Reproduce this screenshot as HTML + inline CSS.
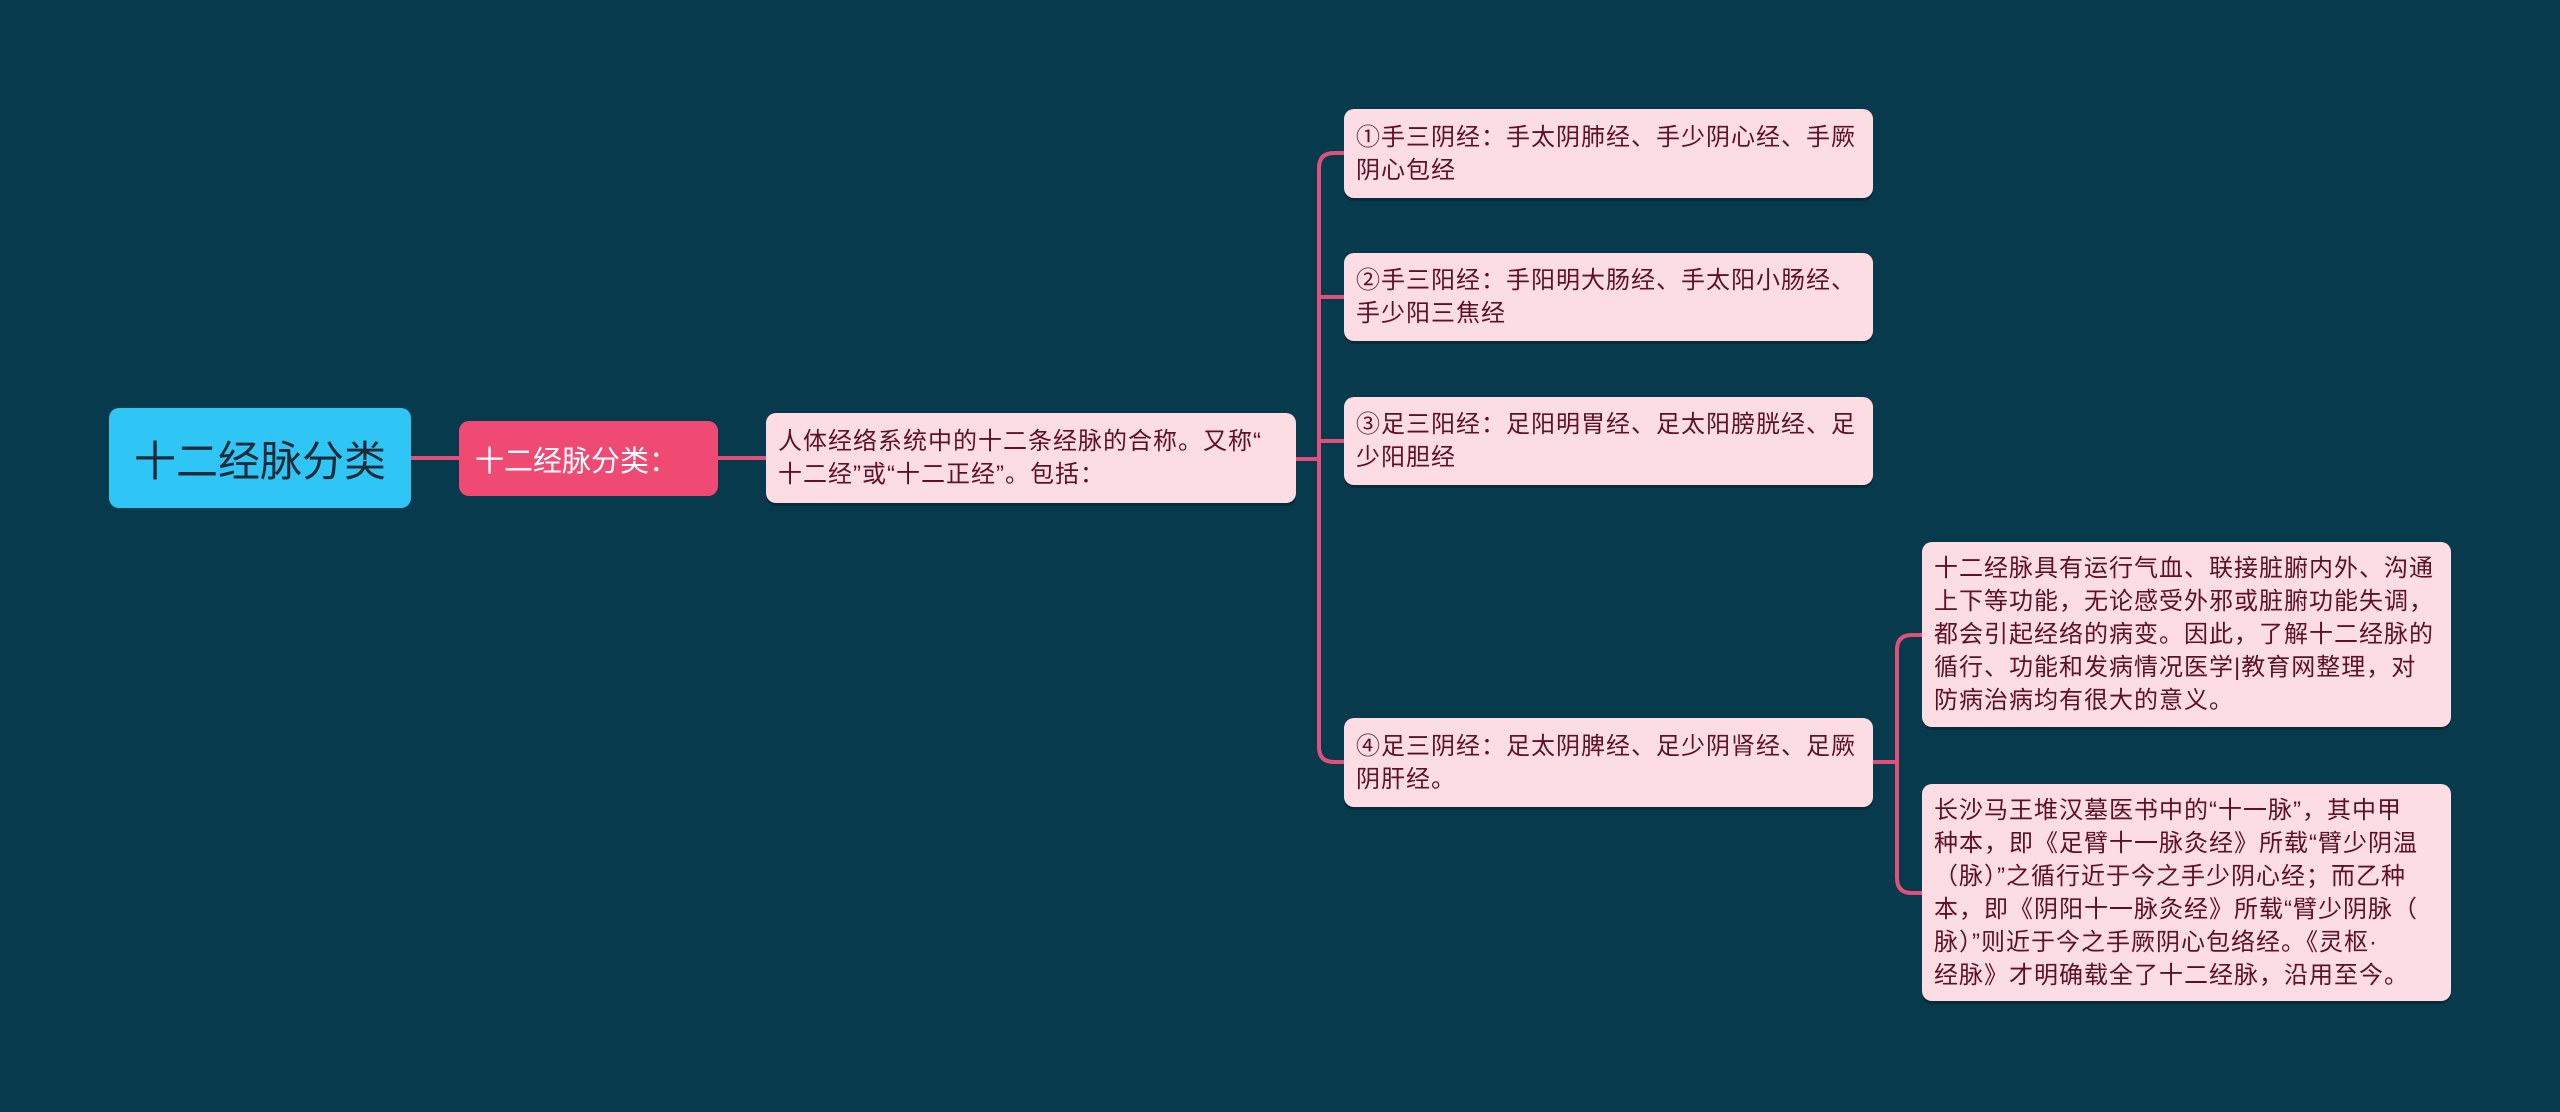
<!DOCTYPE html>
<html><head><meta charset="utf-8"><style>
body{margin:0;width:2560px;height:1112px;background:#083a4d;overflow:hidden;position:relative;font-family:"Liberation Sans","Noto Sans CJK SC",sans-serif}
.n{position:absolute;box-sizing:border-box;border-radius:10px;white-space:nowrap}
.p{background:#fcdde3;color:#5e1025;font-size:24px;line-height:33px;padding:0 0 0 12px;letter-spacing:1px;display:flex;align-items:center;box-shadow:0 3px 0 rgba(0,0,0,0.25)}
svg{position:absolute;left:0;top:0}
</style></head><body>
<svg width="2560" height="1112" fill="none" stroke="#e0507a" stroke-width="4">
<path d="M411 458H459"/>
<path d="M718 458H766"/>
<path d="M1296 459H1319"/>
<path d="M1344 153H1334Q1319 153 1319 168V747Q1319 762 1334 762H1344"/>
<path d="M1319 297Q1319 297 1334 297H1344"/>
<path d="M1319 441H1344"/>
<path d="M1873 762H1897"/>
<path d="M1922 635H1912Q1897 635 1897 650V878Q1897 893 1912 893H1922"/>
</svg>
<div class="n" style="left:109px;top:408px;width:302px;height:100px;background:#2fc5f4;color:#1d2a38;font-size:42px;display:flex;align-items:center;justify-content:center">十二经脉分类</div>
<div class="n" style="left:459px;top:421px;width:259px;height:75px;background:#ee4a73;color:#fff;font-size:29px;display:flex;align-items:center;padding-left:16px">十二经脉分类：</div>
<div class="n p" style="left:766px;top:413px;width:530px;height:90px">人体经络系统中的十二条经脉的合称。又称“<br>十二经”或“十二正经”。包括：</div>
<div class="n p" style="left:1344px;top:109px;width:529px;height:89px">①手三阴经：手太阴肺经、手少阴心经、手厥<br>阴心包经</div>
<div class="n p" style="left:1344px;top:253px;width:529px;height:88px">②手三阳经：手阳明大肠经、手太阳小肠经、<br>手少阳三焦经</div>
<div class="n p" style="left:1344px;top:397px;width:529px;height:88px">③足三阳经：足阳明胃经、足太阳膀胱经、足<br>少阳胆经</div>
<div class="n p" style="left:1344px;top:718px;width:529px;height:89px">④足三阴经：足太阴脾经、足少阴肾经、足厥<br>阴肝经。</div>
<div class="n p" style="left:1922px;top:542px;width:529px;height:185px">十二经脉具有运行气血、联接脏腑内外、沟通<br>上下等功能，无论感受外邪或脏腑功能失调，<br>都会引起经络的病变。因此，了解十二经脉的<br>循行、功能和发病情况医学|教育网整理，对<br>防病治病均有很大的意义。</div>
<div class="n p" style="left:1922px;top:784px;width:529px;height:217px">长沙马王堆汉墓医书中的“十一脉”，其中甲<br>种本，即《足臂十一脉灸经》所载“臂少阴温<br>（脉）”之循行近于今之手少阴心经；而乙种<br>本，即《阴阳十一脉灸经》所载“臂少阴脉（<br>脉）”则近于今之手厥阴心包络经。《灵枢·<br>经脉》才明确载全了十二经脉，沿用至今。</div>
</body></html>
